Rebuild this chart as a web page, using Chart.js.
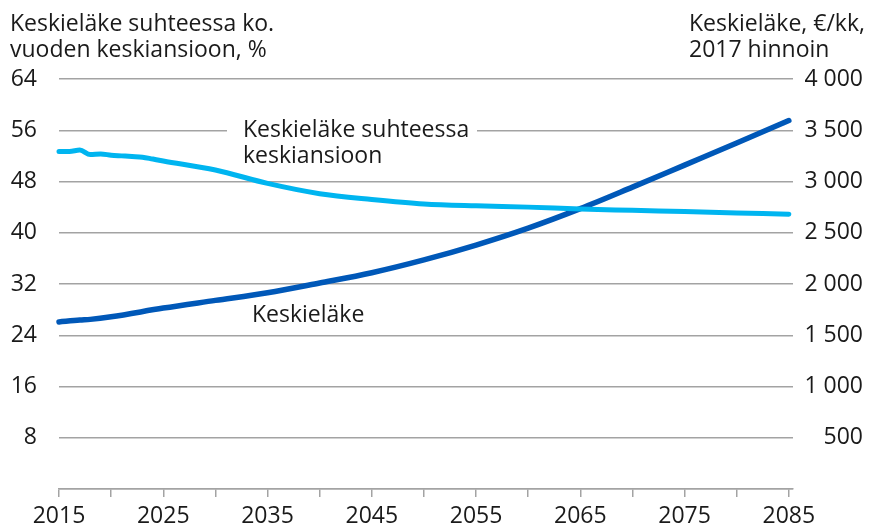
<!DOCTYPE html>
<html lang="fi">
<head>
  <meta charset="UTF-8" />
  <title>Keskieläke</title>
  <script src="https://cdn.jsdelivr.net/npm/chart.js"></script>
  <style>
    html, body { margin: 0; padding: 0; background: #fff; }
    #wrap { width: 870px; height: 526px; position: relative; }
  </style>
</head>
<body>
  <div id="wrap"><canvas id="chart"></canvas></div>
  <script>
    // data
    const ratioYears = [2015, 2016, 2017, 2018, 2019, 2020, 2021, 2022, 2023, 2024, 2025, 2030, 2035, 2040, 2045, 2050, 2055, 2060, 2065, 2070, 2075, 2080, 2085];
    const ratioValues = [52.7, 52.7, 52.9, 52.2, 52.3, 52.1, 52.0, 51.9, 51.8, 51.5, 51.2, 49.8, 47.7, 46.1, 45.2, 44.5, 44.2, 44.0, 43.7, 43.5, 43.3, 43.1, 42.9];
    const pensionYears = [2015, 2017, 2018, 2020, 2025, 2030, 2035, 2040, 2045, 2050, 2055, 2060, 2065, 2070, 2075, 2080, 2085];
    const pensionValues = [1630, 1648, 1655, 1680, 1765, 1840, 1915, 2010, 2110, 2235, 2380, 2545, 2735, 2945, 3160, 3375, 3595];
    const yearTicks = [2015, 2020, 2025, 2030, 2035, 2040, 2045, 2050, 2055, 2060, 2065, 2070, 2075, 2080, 2085];
    const leftTicks = [0, 8, 16, 24, 32, 40, 48, 56, 64];
    const rightTicks = [0, 500, 1000, 1500, 2000, 2500, 3000, 3500, 4000];

    const FONT = "'Open Sans', sans-serif";
    const TEXT = '#1a1a1a';
    const GRID = '#a3a3a3';

    const toPoints = (xs, ys) => xs.map((x, i) => ({ x: x, y: ys[i] }));
    const fmtThousands = v => String(v).replace(/\B(?=(\d{3})+(?!\d))/g, ' ');

    const textPlugin = {
      id: 'texts',
      beforeDatasetsDraw(chart) {
        // gap in the 56 gridline behind the series label
        const ctx = chart.ctx;
        const y56 = chart.scales.y.getPixelForValue(56);
        ctx.save();
        ctx.fillStyle = '#fff';
        ctx.fillRect(227, y56 - 3, 250, 6);
        ctx.restore();
      },
      afterDraw(chart) {
        const ctx = chart.ctx;
        ctx.save();
        ctx.fillStyle = TEXT;
        ctx.font = '23px ' + FONT;
        ctx.textBaseline = 'alphabetic';
        ctx.textAlign = 'left';
        ctx.fillText('Keskieläke suhteessa ko.', 10, 31);
        ctx.fillText('vuoden keskiansioon, %', 10, 57);
        ctx.fillText('Keskieläke, €/kk,', 689, 31);
        ctx.fillText('2017 hinnoin', 689, 57);
        ctx.fillText('Keskieläke suhteessa', 243, 137);
        ctx.fillText('keskiansioon', 243, 163);
        ctx.fillText('Keskieläke', 252, 322);
        ctx.restore();
      }
    };

    new Chart(document.getElementById('chart'), {
      type: 'line',
      data: {
        datasets: [
          {
            label: 'Keskieläke suhteessa keskiansioon',
            data: toPoints(ratioYears, ratioValues),
            yAxisID: 'y',
            borderColor: '#00b5f0',
            borderWidth: 5,
            borderCapStyle: 'round',
            pointRadius: 0,
            cubicInterpolationMode: 'monotone',
            clip: false
          },
          {
            label: 'Keskieläke',
            data: toPoints(pensionYears, pensionValues),
            yAxisID: 'y2',
            borderColor: '#0058b8',
            borderWidth: 5.5,
            borderCapStyle: 'round',
            pointRadius: 0,
            cubicInterpolationMode: 'monotone',
            clip: false
          }
        ]
      },
      options: {
        responsive: true,
        maintainAspectRatio: false,
        animation: false,
        layout: { padding: { top: 79, right: 7, left: 0, bottom: 0 } },
        plugins: { legend: { display: false }, tooltip: { enabled: false } },
        scales: {
          x: {
            type: 'linear',
            min: 2015,
            max: 2085.4,
            afterBuildTicks: s => { s.ticks = yearTicks.map(v => ({ value: v })); },
            afterFit: s => { s.height = 37; },
            grid: { drawOnChartArea: false, drawTicks: true, tickLength: 8, color: GRID, lineWidth: 1.5 },
            border: { display: true, color: GRID, width: 1.5 },
            ticks: {
              padding: 6,
              maxRotation: 0,
              autoSkip: false,
              color: TEXT,
              font: { family: FONT, size: 23 },
              callback: v => (v % 10 === 5 ? String(v) : '')
            }
          },
          y: {
            position: 'left',
            min: 0,
            max: 64,
            afterBuildTicks: s => { s.ticks = leftTicks.map(v => ({ value: v })); },
            afterFit: s => { s.width = 59; },
            grid: { color: GRID, lineWidth: 1.5, drawTicks: false },
            border: { display: false },
            ticks: {
              padding: 22,
              color: TEXT,
              font: { family: FONT, size: 23 },
              callback: v => (v === 0 ? '' : String(v))
            }
          },
          y2: {
            position: 'right',
            min: 0,
            max: 4000,
            afterBuildTicks: s => { s.ticks = rightTicks.map(v => ({ value: v })); },
            afterFit: s => { s.width = 70; },
            grid: { display: false, drawOnChartArea: false },
            border: { display: false },
            ticks: {
              crossAlign: 'far',
              color: TEXT,
              font: { family: FONT, size: 23 },
              callback: v => (v === 0 ? '' : fmtThousands(v))
            }
          }
        }
      },
      plugins: [textPlugin]
    });
  </script>
</body>
</html>
